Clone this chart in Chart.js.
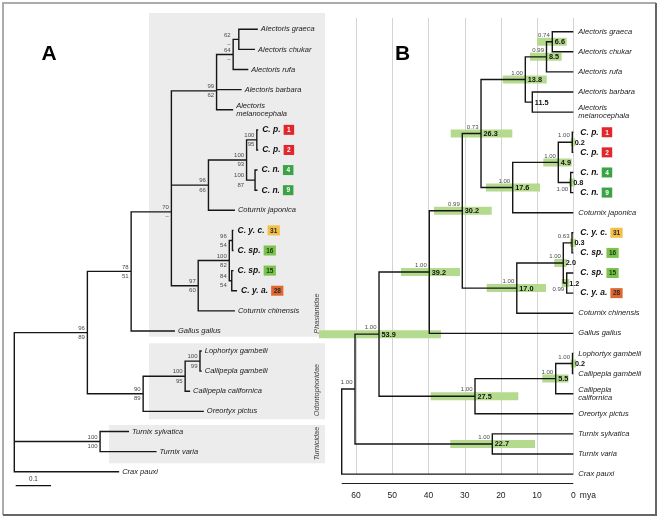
<!DOCTYPE html>
<html>
<head>
<meta charset="utf-8">
<script src="https://cdn.jsdelivr.net/npm/chart.js@4.4.1/dist/chart.umd.min.js"></script>
<style>
  html, body { margin: 0; padding: 0; background: #fff; }
  canvas { display: block; }
</style>
</head>
<body>
<canvas id="tree" width="661" height="519"></canvas>
<script>
// tips, top to bottom (same row order in both panels)
const tipNames = [
  'Alectoris graeca', 'Alectoris chukar', 'Alectoris rufa', 'Alectoris barbara', 'Alectoris melanocephala',
  'C. p.', 'C. p.', 'C. n.', 'C. n.', 'Coturnix japonica',
  'C. y. c.', 'C. sp.', 'C. sp.', 'C. y. a.', 'Coturnix chinensis', 'Gallus gallus',
  'Lophortyx gambelii', 'Callipepla gambelii', 'Callipepla californica', 'Oreortyx pictus',
  'Turnix sylvatica', 'Turnix varia', 'Crax pauxi'
];
const tipBadges = ['', '', '', '', '', '1', '2', '4', '9', '', '31', '16', '15', '28', '', '', '', '', '', '', '', '', ''];

// panel A: phylogram. numbers = tip rows, * = internal node (post-order)
const topologyA = '(((((((((0,1)*,2)*,3)*,4)*,(((5,6)*,(7,8)*)*,9)*)*,(((10,11)*,(12,13)*)*,14)*)*,15)*,(((16,17)*,18)*,19)*)*,(20,21)*,22)*';
const tipDepthA = [0.690, 0.682, 0.663, 0.644, 0.620, 0.691, 0.691, 0.689, 0.689, 0.625, 0.621, 0.621,
  0.621, 0.631, 0.625, 0.455, 0.531, 0.531, 0.498, 0.537, 0.325, 0.403, 0.297];
const nodeDepthA = [0.636, 0.620, 0.573, 0.573, 0.687, 0.682, 0.658, 0.550, 0.445, 0.618, 0.616,
  0.609, 0.521, 0.445, 0.331, 0.526, 0.484, 0.365, 0.207, 0.243, 0];
const bootTopA = ['62', '64', '', '99', '100', '100', '100', '96', '', '96', '84', '100', '97', '70', '78', '100', '100', '90', '96', '100', ''];
const bootBottomA = ['–', '–', '', '62', '95', '87', '93', '66', '', '54', '54', '82', '60', '–', '51', '99', '95', '89', '89', '100', ''];
const scaleBarA = 0.1;

// panel B: chronogram (mya)
const topologyB = '(((((((((0,1)*,2)*,(3,4)*)*,(((5,6)*,(7,8)*)*,9)*)*,(((10,11)*,(12,13)*)*,14)*)*,15)*,(((16,17)*,18)*,19)*)*,(20,21)*)*,22)*';
const tipAgeB = [0, 0, 0, 0, 0, 0, 0, 0, 0, 0, 0, 0, 0, 0, 0, 0, 0, 0, 0, 0, 0, 0, 0];
const nodeAgeB = [5.80, 7.40, 11.32, 13.25, 0.28, 0.72, 4.14, 16.73, 25.48, 0.36, 1.82, 2.76, 15.60,
  30.65, 39.76, 0.22, 4.86, 27.14, 53.64, 22.36, 60.27, 63.94];
const ageLabelB = ['6.6', '8.5', '11.5', '13.8', '0.2', '0.8', '4.9', '17.6', '26.3', '0.3', '1.2', '2.0',
  '17.0', '30.2', '39.2', '0.2', '5.5', '27.5', '53.9', '22.7', '', ''];
const posteriorB = ['0.74', '0.99', '', '1.00', '1.00', '1.00', '1.00', '1.00', '0.73', '0.63', '0.99', '1.00',
  '1.00', '0.99', '1.00', '1.00', '1.00', '1.00', '1.00', '1.00', '1.00', ''];
const hpdLowB = [1.82, 3.20, null, 7.34, -0.47, -0.47, 0.44, 9.19, 16.84, -0.75, 1.10, 1.82, 7.54, 22.53,
  31.28, -0.75, 1.33, 15.18, 36.53, 10.57, null, null];
const hpdHighB = [9.94, 11.95, null, 19.49, 0.72, 1.19, 8.28, 24.10, 33.85, 0.91, 3.20, 5.25, 23.91, 38.46,
  47.57, 0.72, 8.56, 39.37, 70.21, 33.96, null, null];
const timeTicks = [60, 50, 40, 30, 20, 10, 0];

const FONT = '"Liberation Sans", Arial, sans-serif';
const badgeStyle = {
  '1': ['#e1262c', '#fff'], '2': ['#e1262c', '#fff'],
  '4': ['#3ba346', '#fff'], '9': ['#3ba346', '#fff'],
  '31': ['#f3bf45', '#2a2a2a'], '16': ['#7bc24f', '#1d3a10'], '15': ['#7bc24f', '#1d3a10'],
  '28': ['#e0682f', '#2a2a2a']
};
const wrapA = [4];
const wrapB = [4, 18];
const belowB = [5, 10];   // posterior printed under the branch
const groups = [
  { x: 149, y: 13, w: 176, h: 323.7, name: 'Phasianidae' },
  { x: 149, y: 343.3, w: 176, h: 76, name: 'Odontophoridae' },
  { x: 109, y: 425, w: 216, h: 38.3, name: 'Turnicidae' }
];

function parseTopology(str) {
  let i = 0;
  const post = [];
  function read() {
    if (str[i] === '(') {
      i++;
      const kids = [read()];
      while (str[i] === ',') { i++; kids.push(read()); }
      i += 2; // ")*"
      const node = { kids, id: post.length };
      post.push(node);
      return node;
    }
    let s = '';
    while (str[i] >= '0' && str[i] <= '9') s += str[i++];
    return { tip: Number(s) };
  }
  const root = read();
  return { root, post };
}

function place(node, tipX, nodeX, parent) {
  node.parent = parent;
  if (node.tip !== undefined) {
    node.x = tipX[node.tip];
    node.y = node.tip;
    return;
  }
  node.kids.forEach(k => place(k, tipX, nodeX, node));
  node.x = nodeX[node.id];
  node.y = (node.kids[0].y + node.kids[node.kids.length - 1].y) / 2;
}

function branchPoints(post) {
  const pts = [];
  post.forEach(n => {
    const first = n.kids[0], last = n.kids[n.kids.length - 1];
    pts.push({ x: first.x, y: first.y }, { x: n.x, y: first.y }, { x: n.x, y: last.y }, { x: last.x, y: last.y }, { x: null, y: null });
    n.kids.slice(1, -1).forEach(k => {
      pts.push({ x: n.x, y: k.y }, { x: k.x, y: k.y }, { x: null, y: null });
    });
  });
  return pts;
}

const treeA = parseTopology(topologyA);
const treeB = parseTopology(topologyB);
place(treeA.root, tipDepthA, nodeDepthA, null);
place(treeB.root, tipAgeB, nodeAgeB, null);

const hpdPoints = [];
treeB.post.forEach(n => {
  if (hpdLowB[n.id] === null) return;
  hpdPoints.push({ x: hpdHighB[n.id], y: n.y }, { x: hpdLowB[n.id], y: n.y }, { x: null, y: null });
});

function drawBadge(ctx, x, yc, num) {
  const [fill, ink] = badgeStyle[num];
  ctx.font = `bold 6.5px ${FONT}`;
  const w = Math.max(10.5, ctx.measureText(num).width + 5);
  ctx.fillStyle = fill;
  ctx.fillRect(x, yc - 5, w, 10);
  ctx.fillStyle = ink;
  ctx.textAlign = 'center';
  ctx.fillText(num, x + w / 2, yc + 0.5);
}

function drawTips(ctx, xs, ys, tipX, wrap, plainGap, boldGap) {
  tipNames.forEach((name, i) => {
    const x = xs.getPixelForValue(tipX[i]);
    const y = ys.getPixelForValue(i);
    ctx.textAlign = 'left';
    if (tipBadges[i]) {
      ctx.font = `italic bold 8.5px ${FONT}`;
      ctx.fillStyle = '#111';
      ctx.fillText(name, x + boldGap, y);
      const w = ctx.measureText(name).width;
      drawBadge(ctx, x + boldGap + w + 3, y, tipBadges[i]);
      return;
    }
    ctx.font = `italic 7.5px ${FONT}`;
    ctx.fillStyle = '#1a1a1a';
    const lines = wrap.includes(i) ? name.split(' ') : [name];
    const lh = 7.8;
    lines.forEach((ln, k) => ctx.fillText(ln, x + plainGap, y + (k - (lines.length - 1) / 2) * lh));
  });
}

const treeDecor = {
  id: 'treeDecor',
  beforeDatasetsDraw(chart) {
    const ctx = chart.ctx;
    const { xB, yB } = chart.scales;
    ctx.save();
    // frame
    ctx.lineWidth = 2;
    ctx.strokeStyle = '#ababab';
    ctx.beginPath();
    ctx.moveTo(3, 515); ctx.lineTo(3, 3); ctx.lineTo(656, 3);
    ctx.stroke();
    ctx.strokeStyle = '#666';
    ctx.beginPath();
    ctx.moveTo(656, 3); ctx.lineTo(656, 515); ctx.lineTo(3, 515);
    ctx.stroke();
    // family boxes
    groups.forEach(g => {
      ctx.fillStyle = '#ececec';
      ctx.fillRect(g.x, g.y, g.w, g.h);
      ctx.save();
      ctx.translate(g.x + g.w - 8, g.y + g.h - 3);
      ctx.rotate(-Math.PI / 2);
      ctx.font = `italic 7.3px ${FONT}`;
      ctx.fillStyle = '#444';
      ctx.textAlign = 'left';
      ctx.textBaseline = 'middle';
      ctx.fillText(g.name, 0, 0);
      ctx.restore();
    });
    // time grid
    const gTop = 18, gBot = yB.getPixelForValue(tipNames.length - 1);
    ctx.strokeStyle = '#d3d3d3';
    ctx.lineWidth = 1;
    timeTicks.forEach(t => {
      const x = Math.round(xB.getPixelForValue(t)) + 0.5;
      ctx.beginPath();
      ctx.moveTo(x, gTop);
      ctx.lineTo(x, gBot);
      ctx.stroke();
    });
    ctx.restore();
  },
  afterDatasetsDraw(chart) {
    const ctx = chart.ctx;
    const { xA, yA, xB, yB } = chart.scales;
    ctx.save();
    ctx.textBaseline = 'middle';

    // panel letters
    ctx.font = `bold 21px ${FONT}`;
    ctx.fillStyle = '#000';
    ctx.textAlign = 'left';
    ctx.textBaseline = 'alphabetic';
    ctx.fillText('A', 41.5, 59.5);
    ctx.fillText('B', 395, 59.5);
    ctx.textBaseline = 'middle';

    // tips
    drawTips(ctx, xA, yA, tipDepthA, wrapA, 3, 4);
    drawTips(ctx, xB, yB, tipAgeB, wrapB, 5, 7);

    // bootstrap values, panel A
    ctx.font = `6px ${FONT}`;
    ctx.fillStyle = '#4a4a4a';
    ctx.textAlign = 'right';
    treeA.post.forEach(n => {
      if (!bootTopA[n.id]) return;
      const nx = xA.getPixelForValue(n.x);
      const px = n.parent ? xA.getPixelForValue(n.parent.x) : nx;
      const right = (nx - px < 9.5 ? px : nx) - 2.5;
      const ny = yA.getPixelForValue(n.y);
      ctx.fillText(bootTopA[n.id], right, ny - 4.5);
      ctx.fillText(bootBottomA[n.id], right, ny + 4.8);
    });

    // posteriors and ages, panel B
    treeB.post.forEach(n => {
      const nx = xB.getPixelForValue(n.x);
      const ny = yB.getPixelForValue(n.y);
      if (posteriorB[n.id]) {
        ctx.font = `6px ${FONT}`;
        ctx.fillStyle = '#4a4a4a';
        ctx.textAlign = 'right';
        ctx.fillText(posteriorB[n.id], nx - 2.5, belowB.includes(n.id) ? ny + 6.5 : ny - 6.5);
      }
      if (ageLabelB[n.id]) {
        ctx.font = `bold 7.3px ${FONT}`;
        ctx.fillStyle = '#111';
        ctx.textAlign = 'left';
        ctx.fillText(ageLabelB[n.id], nx + 2.5, ny + 0.5);
      }
    });

    // time axis
    const axisY = 483.5;
    ctx.strokeStyle = '#222';
    ctx.lineWidth = 1;
    ctx.beginPath();
    ctx.moveTo(xB.getPixelForValue(treeB.root.x), axisY);
    ctx.lineTo(xB.getPixelForValue(0), axisY);
    ctx.stroke();
    ctx.font = `8.5px ${FONT}`;
    ctx.fillStyle = '#222';
    ctx.textAlign = 'center';
    timeTicks.forEach(t => ctx.fillText(String(t), xB.getPixelForValue(t), 496));
    ctx.textAlign = 'left';
    ctx.fillText('mya', xB.getPixelForValue(0) + 6.5, 496);

    // scale bar, panel A
    const x0 = 15.7;
    const len = xA.getPixelForValue(scaleBarA) - xA.getPixelForValue(0);
    ctx.lineWidth = 1.3;
    ctx.strokeStyle = '#111';
    ctx.beginPath();
    ctx.moveTo(x0, 485.7);
    ctx.lineTo(x0 + len, 485.7);
    ctx.stroke();
    ctx.font = `6.3px ${FONT}`;
    ctx.fillStyle = '#333';
    ctx.textAlign = 'center';
    ctx.fillText(String(scaleBarA), x0 + len / 2, 479.5);
    ctx.restore();
  }
};

const lineBase = { showLine: true, pointRadius: 0, pointHoverRadius: 0, tension: 0, spanGaps: false };

new Chart(document.getElementById('tree'), {
  type: 'scatter',
  data: {
    datasets: [
      Object.assign({ label: '95% HPD', data: hpdPoints, xAxisID: 'xB', yAxisID: 'yB',
        borderColor: '#b4da8d', borderWidth: 8, borderCapStyle: 'butt', order: 3 }, lineBase),
      Object.assign({ label: 'phylogram', data: branchPoints(treeA.post), xAxisID: 'xA', yAxisID: 'yA',
        borderColor: '#161616', borderWidth: 1.4, borderJoinStyle: 'miter', order: 1 }, lineBase),
      Object.assign({ label: 'chronogram', data: branchPoints(treeB.post), xAxisID: 'xB', yAxisID: 'yB',
        borderColor: '#161616', borderWidth: 1.4, borderJoinStyle: 'miter', order: 1 }, lineBase)
    ]
  },
  options: {
    responsive: false,
    animation: false,
    devicePixelRatio: 1,
    events: [],
    layout: { padding: 0, autoPadding: false },
    plugins: { legend: { display: false }, tooltip: { enabled: false } },
    scales: {
      x: { display: false },
      y: { display: false },
      xA: { type: 'linear', display: false, bounds: 'data', min: -0.04051, max: 1.83201 },
      xB: { type: 'linear', display: false, bounds: 'data', reverse: true, min: -24.213, max: 158.283 },
      yA: { type: 'linear', display: false, bounds: 'data', reverse: true, min: -1.457, max: 24.351 },
      yB: { type: 'linear', display: false, bounds: 'data', reverse: true, min: -1.5763, max: 24.232 }
    }
  },
  plugins: [treeDecor]
});
</script>
</body>
</html>
